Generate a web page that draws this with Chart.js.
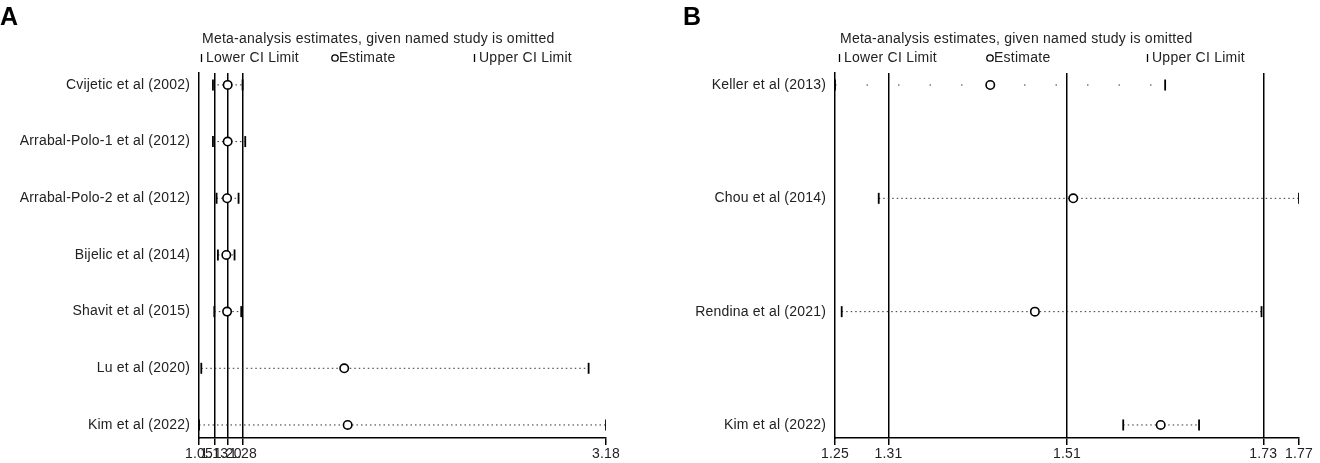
<!DOCTYPE html>
<html>
<head>
<meta charset="utf-8">
<script src="https://cdn.jsdelivr.net/npm/chart.js@4.4.1/dist/chart.umd.min.js"></script>
<style>
  html, body { margin:0; padding:0; background:#fff; }
  #wrap { position:relative; width:1320px; height:463px; overflow:hidden; }
  .panel { position:absolute; top:0; width:660px; height:463px; }
</style>
</head>
<body>
<div id="wrap">
  <div class="panel" style="left:0"><canvas id="cA" width="660" height="463"></canvas></div>
  <div class="panel" style="left:660px"><canvas id="cB" width="660" height="463"></canvas></div>
</div>
<script>
// ---------- DATA ----------
const titleText = "Meta-analysis estimates, given named study is omitted";
const legendLower = "Lower CI Limit";
const legendEst = "Estimate";
const legendUpper = "Upper CI Limit";

// Panel A
const studiesA = ["Cvijetic et al (2002)", "Arrabal-Polo-1 et al (2012)", "Arrabal-Polo-2 et al (2012)",
  "Bijelic et al (2014)", "Shavit et al (2015)", "Lu et al (2020)", "Kim et al (2022)"];
const lowerA = [1.123, 1.123, 1.142, 1.149, 1.13, 1.062, 1.05];
const estA   = [1.20, 1.20, 1.197, 1.193, 1.197, 1.81, 1.828];
const upperA = [1.278, 1.292, 1.257, 1.236, 1.271, 3.089, 3.18];
const xTicksA = [1.05, 1.13, 1.20, 1.28, 3.18];
const xTickLabelsA = ["1.05", "1.13", "1.20", "1.28", "3.18"];

// Panel B
const studiesB = ["Keller et al (2013)", "Chou et al (2014)", "Rendina et al (2021)", "Kim et al (2022)"];
const lowerB = [1.25, 1.299, 1.2575, 1.573];
const estB   = [1.424, 1.517, 1.474, 1.615];
const upperB = [1.62, 1.77, 1.728, 1.658];
const xTicksB = [1.25, 1.31, 1.51, 1.73, 1.77];
const xTickLabelsB = ["1.25", "1.31", "1.51", "1.73", "1.77"];

// ---------- CHART BUILDER ----------
const FONT = '"Liberation Sans", Arial, sans-serif';
const TEXT = '#222';

const spacingPlugin = {
  id: 'spacing',
  beforeDraw(chart) { try { chart.ctx.letterSpacing = '0.2px'; } catch (e) {} }
};

function headerPlugin(opts) {
  return {
    id: 'header',
    afterDraw(chart) {
      const ctx = chart.ctx;
      ctx.save();
      try { ctx.letterSpacing = '0px'; } catch (e) {}
      ctx.fillStyle = '#000';
      ctx.font = 'bold 25px ' + FONT;
      ctx.textBaseline = 'alphabetic';
      ctx.fillText(opts.letter, opts.letterX, 25);
      try { ctx.letterSpacing = '0.25px'; } catch (e) {}
      ctx.fillStyle = TEXT;
      ctx.font = '14px ' + FONT;
      ctx.fillText(titleText, opts.titleX, 43);
      // legend
      const by = 62;
      ctx.strokeStyle = '#000';
      ctx.lineWidth = 1.3;
      ctx.beginPath(); ctx.moveTo(opts.lowX + 0.5, by - 8); ctx.lineTo(opts.lowX + 0.5, by); ctx.stroke();
      ctx.fillText(legendLower, opts.lowX + 5, by);
      ctx.beginPath(); ctx.arc(opts.estX + 3, by - 4, 3.2, 0, Math.PI * 2); ctx.stroke();
      ctx.fillText(legendEst, opts.estX + 7, by);
      ctx.beginPath(); ctx.moveTo(opts.upX + 0.5, by - 8); ctx.lineTo(opts.upX + 0.5, by); ctx.stroke();
      ctx.fillText(legendUpper, opts.upX + 5, by);
      ctx.restore();
    }
  };
}

function buildChart(canvasId, studies, lo, est, hi, xTicks, xLabels, layout) {
  const n = studies.length;
  const datasets = [];
  for (let i = 0; i < n; i++) {
    datasets.push({
      type: 'line',
      data: [{x: lo[i], y: i}, {x: hi[i], y: i}],
      borderColor: '#333',
      borderWidth: 1,
      borderDash: layout.dash(i),
      pointRadius: 0,
      order: 3
    });
  }
  datasets.push({
    type: 'scatter',
    data: lo.map((v, i) => ({x: v, y: i})),
    pointStyle: 'line', rotation: 90, pointRadius: 5.5,
    borderColor: '#000', borderWidth: 1.8, order: 2
  });
  datasets.push({
    type: 'scatter',
    data: hi.map((v, i) => ({x: v, y: i})),
    pointStyle: 'line', rotation: 90, pointRadius: 5.5,
    borderColor: '#000', borderWidth: 1.8, order: 2
  });
  datasets.push({
    type: 'scatter',
    data: est.map((v, i) => ({x: v, y: i})),
    pointStyle: 'circle', pointRadius: 4.2,
    backgroundColor: '#fff', borderColor: '#000', borderWidth: 1.6, order: 1
  });

  const xmin = xTicks[0], xmax = xTicks[xTicks.length - 1];
  return new Chart(document.getElementById(canvasId), {
    type: 'scatter',
    data: { datasets },
    options: {
      responsive: false,
      animation: false,
      devicePixelRatio: 1,
      layout: { padding: { left: 0, right: layout.padRight, top: 73, bottom: 0 } },
      plugins: { legend: { display: false }, tooltip: { enabled: false } },
      scales: {
        x: {
          type: 'linear', min: xmin, max: xmax,
          afterBuildTicks: s => { s.ticks = xTicks.map(v => ({value: v})); },
          afterFit: s => { s.height = 25; },
          ticks: {
            autoSkip: false, maxRotation: 0, minRotation: 0, padding: 1,
            color: TEXT, font: { family: FONT, size: 14 },
            callback: (v) => { const k = xTicks.indexOf(v); return k >= 0 ? xLabels[k] : ''; }
          },
          grid: {
            color: c => (c.tick && c.tick.value > xmin && c.tick.value < xmax) ? '#000' : 'rgba(0,0,0,0)',
            tickColor: '#000', lineWidth: 1.5, tickLength: 7, drawOnChartArea: true
          },
          border: { display: true, color: '#000', width: 1.5 }
        },
        y: {
          type: 'linear', reverse: true, min: layout.ymin, max: n - 1 + layout.ymaxPad,
          afterBuildTicks: s => { s.ticks = studies.map((_, i) => ({value: i})); },
          afterFit: s => { s.width = layout.yWidth; },
          ticks: {
            autoSkip: false, padding: 9, color: TEXT, font: { family: FONT, size: 14 },
            callback: v => studies[v] !== undefined ? studies[v] : ''
          },
          grid: { display: false, drawTicks: false },
          border: { display: true, color: '#000', width: 1.5 }
        }
      }
    },
    plugins: [spacingPlugin, headerPlugin(layout.header)]
  });
}

buildChart('cA', studiesA, lowerA, estA, upperA, xTicksA, xTickLabelsA, {
  padRight: 54, yWidth: 199, ymin: -0.21, ymaxPad: 0.23,
  dash: () => [1.5, 3],
  header: { letter: 'A', letterX: 0, titleX: 202, lowX: 201, estX: 332, upX: 474 }
});

buildChart('cB', studiesB, lowerB, estB, upperB, xTicksB, xTickLabelsB, {
  padRight: 21, yWidth: 175, ymin: -0.106, ymaxPad: 0.115,
  dash: (i) => i === 0 ? [1.5, 30] : [1.5, 3],
  header: { letter: 'B', letterX: 23, titleX: 180, lowX: 179, estX: 327, upX: 487 }
});
</script>
</body>
</html>
